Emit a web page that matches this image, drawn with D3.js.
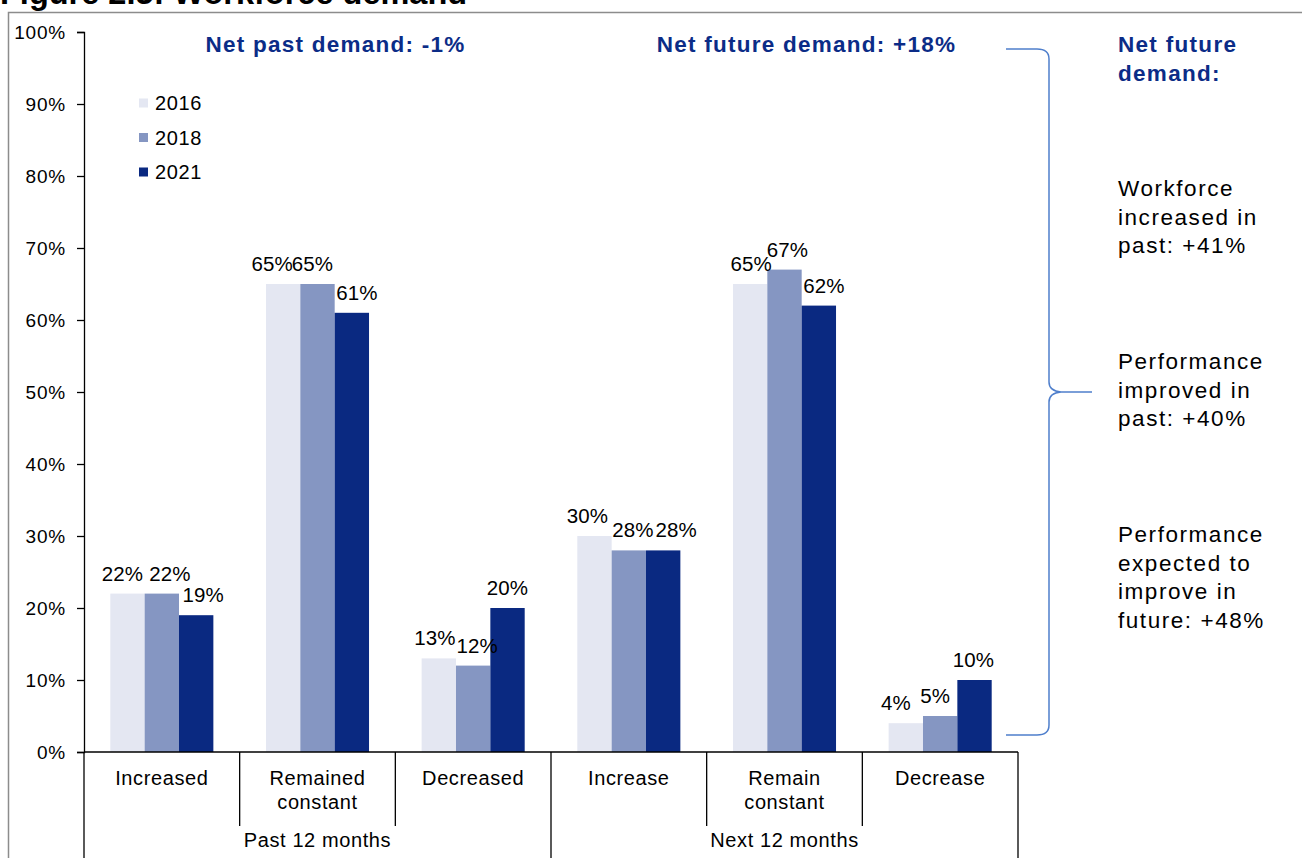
<!DOCTYPE html>
<html>
<head>
<meta charset="utf-8">
<script src="https://cdn.jsdelivr.net/npm/d3@7"></script>
<style>
  html, body { margin: 0; padding: 0; background: #fff; }
  svg { display: block; font-family: "Liberation Sans", Arial, sans-serif; }
</style>
</head>
<body>
<svg id="chart" width="1302" height="858"></svg>
<script>
// Survey results: share of firms by workforce change, per survey year
const categories = ["Increased", "Remained constant", "Decreased", "Increase", "Remain constant", "Decrease"];
const categoryLines = [["Increased"], ["Remained", "constant"], ["Decreased"], ["Increase"], ["Remain", "constant"], ["Decrease"]];
const periods = ["Past 12 months", "Next 12 months"];
const years = ["2016", "2018", "2021"];
const values2016 = [22, 65, 13, 30, 65, 4];
const values2018 = [22, 65, 12, 28, 67, 5];
const values2021 = [19, 61, 20, 28, 62, 10];
const yTicks = [0, 10, 20, 30, 40, 50, 60, 70, 80, 90, 100];
const netHeadings = ["Net past demand: -1%", "Net future demand: +18%"];
const sideTitle = ["Net future", "demand:"];
const sideNotes = [
  ["Workforce", "increased in", "past: +41%"],
  ["Performance", "improved in", "past: +40%"],
  ["Performance", "expected to", "improve in", "future: +48%"]
];

// Horizontal nudges (px) that keep crowded value labels apart, per category then series
const labelNudge = [
  [-5, 8, 7],
  [-11, -5, 5],
  [-4, 4, 0],
  [-7, 4, 13],
  [1, 3, 5],
  [-10, -5, -1]
];

const seriesValues = [values2016, values2018, values2021];
const colors = ["#E4E7F2", "#8596C2", "#0A2981"];
const navy = "#0B2C87";

const svg = d3.select("#chart");

// Outer frame (left and top edges)
svg.append("path")
  .attr("d", "M8.5,858 V12.5 H1302")
  .attr("fill", "none").attr("stroke", "#8c8c8c").attr("stroke-width", 1.5);

// Figure title, clipped at the top edge
svg.append("text")
  .attr("x", 0).attr("y", 4)
  .attr("font-size", 32.5).attr("font-weight", "bold").attr("fill", "#000")
  .text("Figure 2.5: Workforce demand");

const plotLeft = 84, plotRight = 1018, plotTop = 32, plotBottom = 752;

const y = d3.scaleLinear().domain([0, 100]).range([plotBottom, plotTop]);
const x0 = d3.scaleBand().domain(categories).range([plotLeft, plotRight]).padding(0);
const bw = x0.bandwidth();
const x1 = d3.scaleBand().domain(years).range([bw * 0.169, bw * 0.831]).padding(0);

// Y axis
const yAxis = d3.axisLeft(y).tickValues(yTicks).tickFormat(d => d + "%").tickSize(7).tickPadding(11);
const yg = svg.append("g").attr("transform", `translate(${plotLeft},0)`).call(yAxis);
yg.select(".domain").attr("stroke", "#000").attr("stroke-width", 1.3);
yg.selectAll(".tick line").attr("stroke", "#000").attr("stroke-width", 1.3);
yg.selectAll(".tick text")
  .attr("font-size", 19).attr("fill", "#000")
  .attr("font-family", "Liberation Sans, Arial, sans-serif")
  .attr("letter-spacing", 0.8);

// Bars
const groups = svg.append("g").selectAll("g")
  .data(categories)
  .join("g")
  .attr("transform", d => `translate(${x0(d)},0)`);

const cellData = (d, i) => years.map((yr, s) => ({ yr, s, i, v: seriesValues[s][i] }));

groups.selectAll("rect")
  .data(cellData)
  .join("rect")
  .attr("x", d => x1(d.yr))
  .attr("width", x1.bandwidth())
  .attr("y", d => y(d.v))
  .attr("height", d => y(0) - y(d.v))
  .attr("fill", d => colors[d.s]);

groups.selectAll("text.val")
  .data(cellData)
  .join("text")
  .attr("class", "val")
  .attr("x", d => x1(d.yr) + x1.bandwidth() / 2 + labelNudge[d.i][d.s])
  .attr("y", d => y(d.v) - 13)
  .attr("text-anchor", "middle")
  .attr("font-size", 20.5).attr("letter-spacing", 0.1).attr("fill", "#000")
  .text(d => d.v + "%");

// Category axis with two levels
const axisG = svg.append("g").attr("stroke", "#000").attr("stroke-width", 1.3);
axisG.append("line")
  .attr("x1", plotLeft).attr("x2", plotRight)
  .attr("y1", plotBottom).attr("y2", plotBottom);
categories.forEach((c, i) => {
  const xe = x0(c) + bw;
  const isGroupEdge = (i + 1) % 3 === 0;
  axisG.append("line")
    .attr("x1", xe).attr("x2", xe)
    .attr("y1", plotBottom).attr("y2", isGroupEdge ? 858 : 826);
});
axisG.append("line")
  .attr("x1", plotLeft).attr("x2", plotLeft)
  .attr("y1", plotBottom).attr("y2", 858);

categories.forEach((c, i) => {
  const t = svg.append("text")
    .attr("x", x0(c) + bw / 2)
    .attr("text-anchor", "middle")
    .attr("font-size", 20).attr("letter-spacing", 0.6).attr("fill", "#000");
  categoryLines[i].forEach((line, k) => {
    t.append("tspan").attr("x", x0(c) + bw / 2).attr("y", 785 + k * 24).text(line);
  });
});

periods.forEach((p, g) => {
  const xa = x0(categories[g * 3]);
  const xb = x0(categories[g * 3 + 2]) + bw;
  svg.append("text")
    .attr("x", (xa + xb) / 2).attr("y", 847)
    .attr("text-anchor", "middle")
    .attr("font-size", 20).attr("letter-spacing", 0.6).attr("fill", "#000")
    .text(p);
});

// Legend
const legend = svg.append("g");
years.forEach((yr, s) => {
  const cy = 103 + s * 34.5;
  legend.append("rect")
    .attr("x", 139).attr("y", cy - 4.5).attr("width", 9).attr("height", 9)
    .attr("fill", colors[s]);
  legend.append("text")
    .attr("x", 155).attr("y", cy + 7)
    .attr("font-size", 20).attr("letter-spacing", 0.6).attr("fill", "#000")
    .text(yr);
});

// Net demand headings over each period
const headingShift = [18, 22];
periods.forEach((p, g) => {
  const xa = x0(categories[g * 3]);
  const xb = x0(categories[g * 3 + 2]) + bw;
  svg.append("text")
    .attr("x", (xa + xb) / 2 + headingShift[g]).attr("y", 52)
    .attr("text-anchor", "middle")
    .attr("font-size", 22.5).attr("font-weight", "bold").attr("letter-spacing", 1.25)
    .attr("fill", navy)
    .text(netHeadings[g]);
});

// Brace grouping the side notes
const bx = 1049, bTop = 49, bMid = 392, bBot = 735;
svg.append("path")
  .attr("d", `M1006,${bTop} H${bx - 12} Q${bx},${bTop} ${bx},${bTop + 10}
              V${bMid - 10} Q${bx},${bMid - 1} ${bx + 12},${bMid} H1092
              M${bx + 12},${bMid} Q${bx},${bMid + 1} ${bx},${bMid + 10}
              V${bBot - 10} Q${bx},${bBot} ${bx - 12},${bBot} H1006`)
  .attr("fill", "none").attr("stroke", "#4F7FCC").attr("stroke-width", 1.5);

// Side notes
const side = svg.append("g");
const st = side.append("text")
  .attr("font-size", 22.5).attr("font-weight", "bold").attr("letter-spacing", 1.3).attr("fill", navy);
sideTitle.forEach((line, k) => {
  st.append("tspan").attr("x", 1118).attr("y", 52 + k * 28.7).text(line);
});
const noteTops = [196, 369, 542];
sideNotes.forEach((lines, n) => {
  const t = side.append("text")
    .attr("font-size", 22.5).attr("letter-spacing", 1.55).attr("fill", "#000");
  lines.forEach((line, k) => {
    t.append("tspan").attr("x", 1118).attr("y", noteTops[n] + k * 28.7).text(line);
  });
});
</script>
</body>
</html>
